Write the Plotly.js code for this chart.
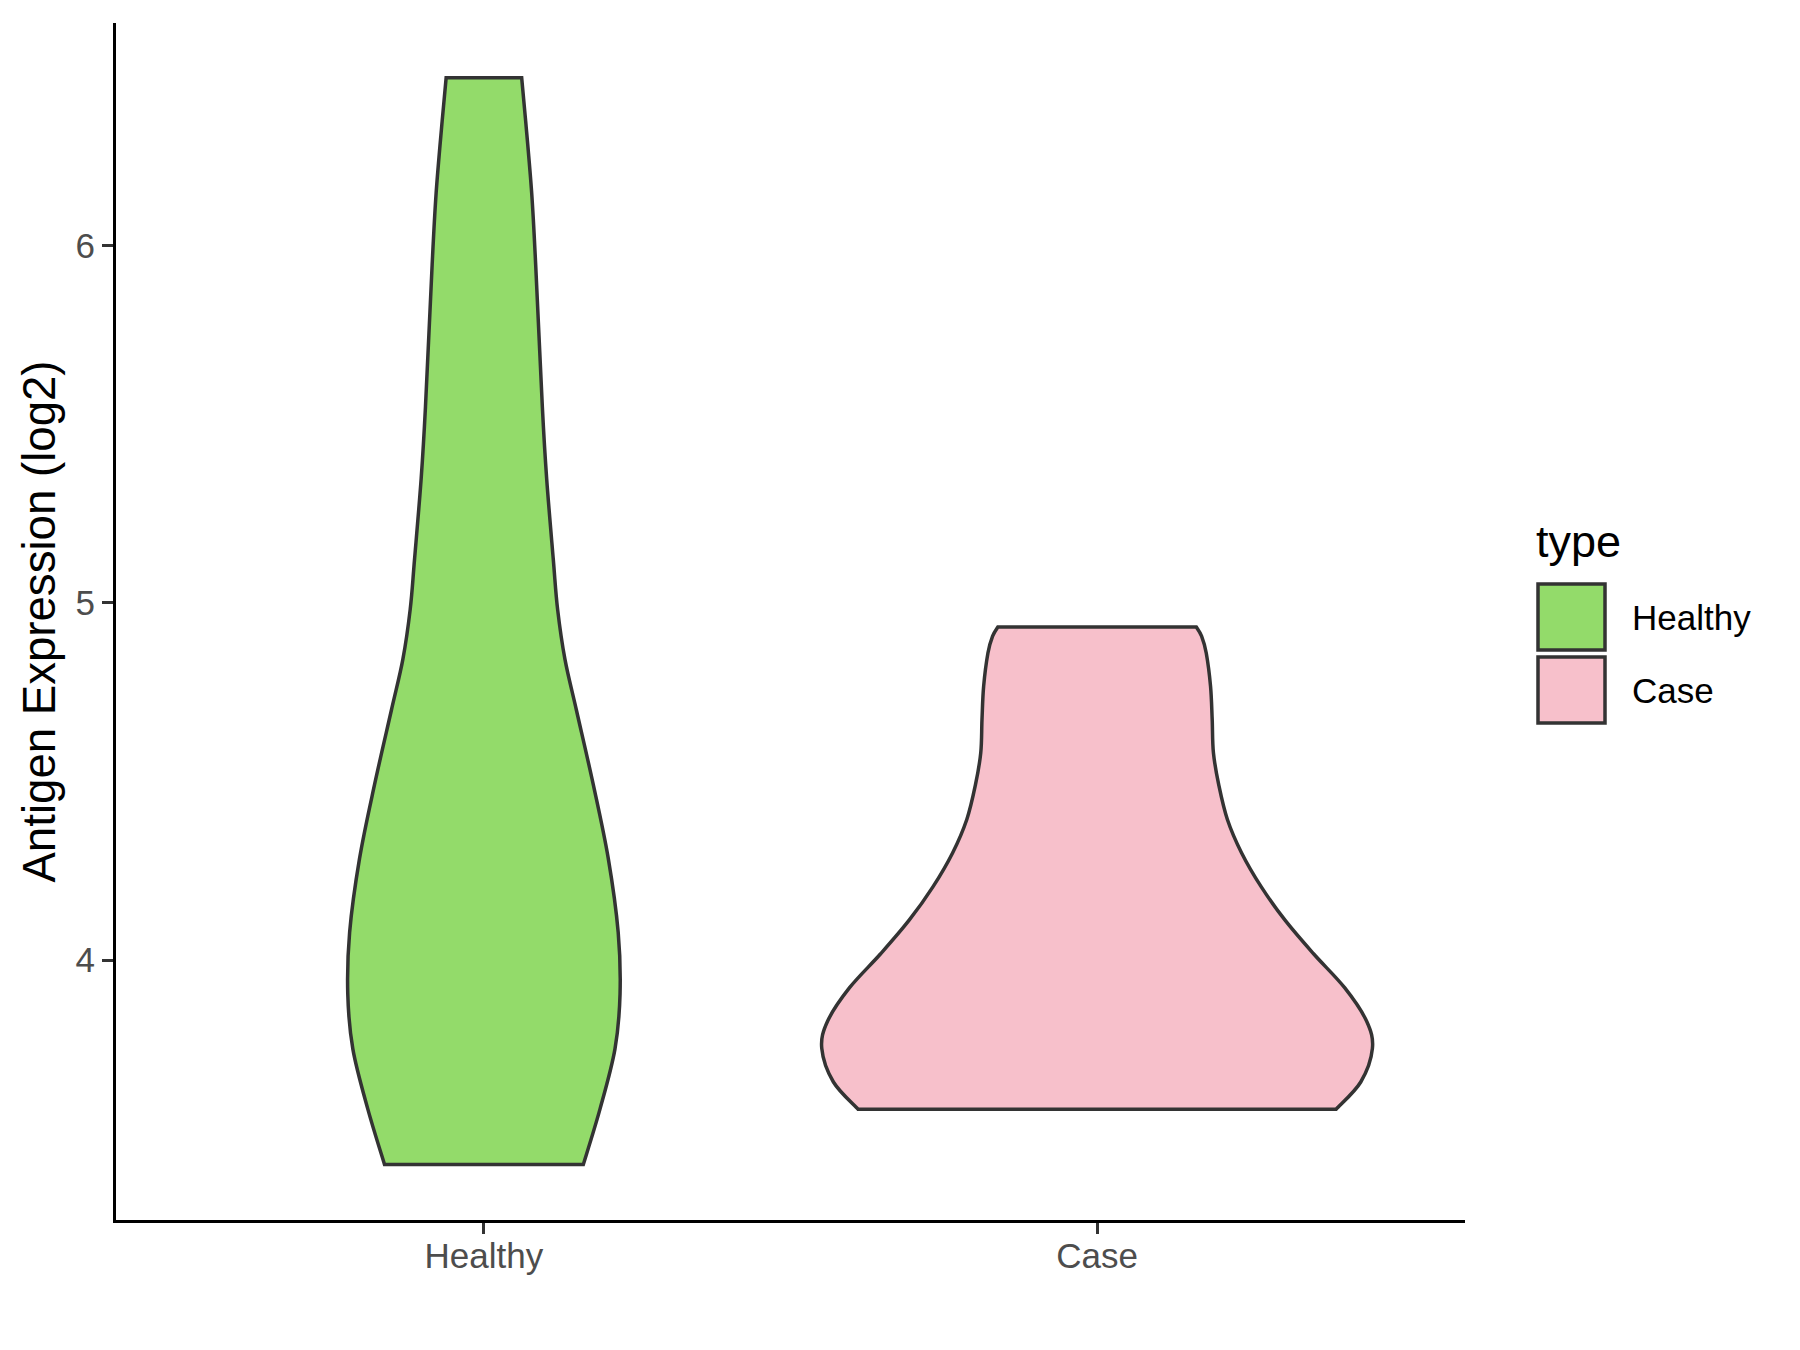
<!DOCTYPE html>
<html>
<head>
<meta charset="utf-8">
<script src="https://cdn.plot.ly/plotly-3.0.1.min.js"></script>
<style>html,body{margin:0;padding:0;background:#fff;}#chart{width:1800px;height:1350px;}</style>
</head>
<body>
<div id="chart"></div>
<script>
// Categories and their positions on the discrete axis
const categories = ['Healthy', 'Case'];
const categoryPos = [1, 2];
const fillColors = ['#93DB6A', '#F7C0CB'];

// Violin density profiles (y value, half-width in category units)
const healthyY = [3.428, 3.583, 3.751, 3.905, 4.078, 4.285, 4.492, 4.699, 4.842, 4.982, 5.121, 5.349, 5.549, 5.948, 6.148, 6.349, 6.470];
const healthyWidth = [0.1621, 0.1893, 0.2137, 0.2220, 0.2190, 0.2028, 0.1783, 0.1510, 0.1322, 0.1202, 0.1132, 0.1023, 0.0953, 0.0844, 0.0779, 0.0681, 0.0616];

const caseY = [3.583, 3.659, 3.753, 3.829, 3.923, 4.018, 4.112, 4.206, 4.301, 4.394, 4.490, 4.581, 4.674, 4.767, 4.860, 4.907, 4.933];
const caseWidth = [0.390, 0.430, 0.449, 0.4396, 0.4037, 0.353, 0.3065, 0.2675, 0.2355, 0.2125, 0.1985, 0.1897, 0.1877, 0.1850, 0.1780, 0.1704, 0.1617];

// Axis ticks
const yTicks = [4, 5, 6];
const yRange = [3.2727, 6.6236];
const xRange = [0.4, 2.6];

const outline = '#333333';
const profiles = [
  {y: healthyY, w: healthyWidth},
  {y: caseY, w: caseWidth}
];

// Smooth (Catmull-Rom -> cubic Bezier) path through points, in data coordinates
function smoothSegments(pts) {
  let d = '';
  for (let k = 0; k < pts.length - 1; k++) {
    const p0 = pts[Math.max(k - 1, 0)], p1 = pts[k], p2 = pts[k + 1], p3 = pts[Math.min(k + 2, pts.length - 1)];
    const c1 = [p1[0] + (p2[0] - p0[0]) / 6, p1[1] + (p2[1] - p0[1]) / 6];
    const c2 = [p2[0] - (p3[0] - p1[0]) / 6, p2[1] - (p3[1] - p1[1]) / 6];
    d += ` C ${c1[0]},${c1[1]} ${c2[0]},${c2[1]} ${p2[0]},${p2[1]}`;
  }
  return d;
}

const traces = [];
const shapes = [];
profiles.forEach((p, i) => {
  const c = categoryPos[i];
  const leftPts = p.y.map((y, k) => [c - p.w[k], y]);
  const rightPts = p.y.map((y, k) => [c + p.w[k], y]).reverse();
  // data-carrying fill traces (covered by the smooth outline shape)
  traces.push({
    type: 'scatter', mode: 'lines', x: leftPts.map(q => q[0]), y: leftPts.map(q => q[1]),
    line: {width: 0, color: fillColors[i]}, showlegend: false, hoverinfo: 'skip', name: categories[i]
  });
  traces.push({
    type: 'scatter', mode: 'lines', x: p.w.map(v => c + v), y: p.y,
    line: {width: 0, color: fillColors[i]}, fill: 'tonextx', fillcolor: fillColors[i],
    showlegend: false, hoverinfo: 'skip', name: categories[i]
  });
  let path = `M ${leftPts[0][0]},${leftPts[0][1]}` + smoothSegments(leftPts);
  path += ` L ${rightPts[0][0]},${rightPts[0][1]}` + smoothSegments(rightPts) + ' Z';
  shapes.push({type: 'path', xref: 'x', yref: 'y', path: path, layer: 'above',
    fillcolor: fillColors[i], line: {color: outline, width: 3.5}});
});

// Plot area in pixels
const L = 116, R = 1465, T = 23, B = 1220;
const px = v => (v - L) / (R - L);
const py = v => (B - v) / (B - T);

const annotations = [];
// Manual legend
annotations.push({xref: 'paper', yref: 'paper', x: px(1534), y: py(541), xanchor: 'left', yanchor: 'middle',
  text: 'type', showarrow: false, font: {family: 'Liberation Sans, Arial, sans-serif', size: 45, color: '#000'}});
const keyTops = [584, 657];
categories.forEach((cat, i) => {
  shapes.push({type: 'rect', xref: 'paper', yref: 'paper',
    x0: px(1538), x1: px(1605), y0: py(keyTops[i] + 66), y1: py(keyTops[i]),
    line: {color: outline, width: 3.5}, fillcolor: fillColors[i]});
  annotations.push({xref: 'paper', yref: 'paper', x: px(1630), y: py(keyTops[i] + 33),
    xanchor: 'left', yanchor: 'middle', text: cat, showarrow: false,
    font: {family: 'Liberation Sans, Arial, sans-serif', size: 35, color: '#000'}});
});

const layout = {
  width: 1800, height: 1350,
  margin: {l: L, r: 1800 - R, t: T, b: 1350 - B, pad: 0},
  paper_bgcolor: '#fff', plot_bgcolor: '#fff',
  showlegend: false,
  font: {family: 'Liberation Sans, Arial, sans-serif'},
  xaxis: {
    range: xRange, tickvals: categoryPos, ticktext: categories,
    showgrid: false, zeroline: false, showline: true, linecolor: '#000', linewidth: 3,
    ticks: 'outside', ticklen: 11, tickwidth: 3, tickcolor: outline,
    ticklabelstandoff: -8,
    tickfont: {size: 35, color: '#4D4D4D'}, fixedrange: true
  },
  yaxis: {
    range: yRange, tickvals: yTicks, ticktext: yTicks.map(String),
    showgrid: false, zeroline: false, showline: true, linecolor: '#000', linewidth: 3,
    ticks: 'outside', ticklen: 11, tickwidth: 3, tickcolor: outline,
    tickfont: {size: 35, color: '#4D4D4D'},
    title: {text: 'Antigen Expression (log2)', font: {size: 45.6, color: '#000'}, standoff: 6},
    fixedrange: true
  },
  shapes: shapes,
  annotations: annotations
};

Plotly.newPlot('chart', traces, layout, {displayModeBar: false, staticPlot: true});
</script>
</body>
</html>
